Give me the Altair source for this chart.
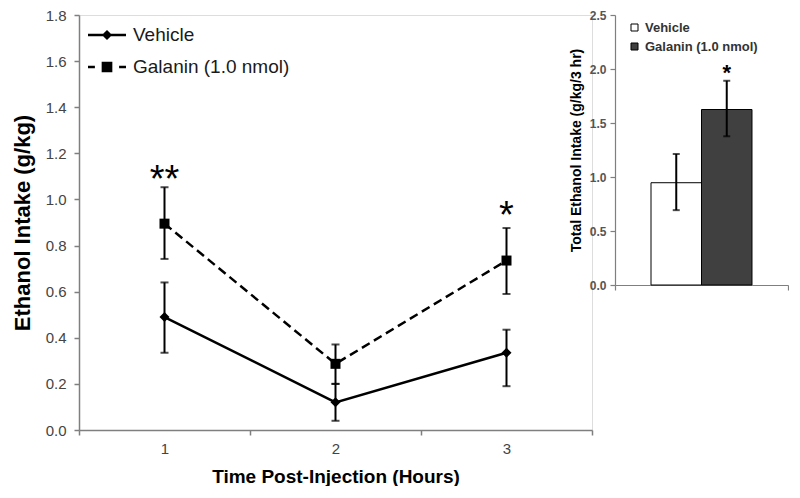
import altair as alt
import pandas as pd

# ---- main chart data ----
times = ["1", "2", "3"]
series_names = ["Vehicle", "Galanin (1.0 nmol)"]
vehicle_mean = [0.49, 0.12, 0.335]
vehicle_lo = [0.335, 0.04, 0.19]
vehicle_hi = [0.64, 0.20, 0.435]
galanin_mean = [0.895, 0.287, 0.735]
galanin_lo = [0.742, 0.20, 0.59]
galanin_hi = [1.053, 0.371, 0.876]

star_times = ["1", "3"]
star_labels = ["**", "*"]
star_values = [1.128, 0.973]

# ---- inset data ----
total_groups = ["Vehicle", "Galanin (1.0 nmol)"]
total_mean = [0.947, 1.625]
total_lo = [0.693, 1.377]
total_hi = [1.213, 1.891]
total_star_group = ["Galanin (1.0 nmol)"]
total_star_label = ["*"]
total_star_value = [2.02]

FONT = "Liberation Sans"

rows = []
for i, t in enumerate(times):
    rows.append(dict(time=t, series=series_names[0], mean=vehicle_mean[i], lo=vehicle_lo[i], hi=vehicle_hi[i]))
for i, t in enumerate(times):
    rows.append(dict(time=t, series=series_names[1], mean=galanin_mean[i], lo=galanin_lo[i], hi=galanin_hi[i]))
main_df = pd.DataFrame(rows)
star_df = pd.DataFrame(dict(time=star_times, label=star_labels, value=star_values))

inset_df = pd.DataFrame(dict(cat=["all"] * 2, treatment=total_groups, mean=total_mean, lo=total_lo, hi=total_hi))
inset_star_df = pd.DataFrame(dict(cat=["all"], treatment=total_star_group, label=total_star_label, value=total_star_value))

W, H = 513, 415

x_main = alt.X(
    "time:O",
    bandPosition=0.5,
    scale=alt.Scale(type="band", domain=times, paddingInner=0, paddingOuter=0),
    axis=alt.Axis(
        title="Time Post-Injection (Hours)", tickBand="extent", labelAngle=0,
        labelFontSize=15, labelColor="#444444", labelPadding=6, labelFont=FONT,
        titleFontSize=19, titleFontWeight="bold", titleColor="black", titleFont=FONT,
        titlePadding=11, domainColor="#7f7f7f", tickColor="#7f7f7f", tickSize=5,
        domainWidth=1.5, tickWidth=1.5, orient="bottom",
    ),
)
y_scale_main = alt.Scale(domain=[0, 1.8], nice=False)
y_main = alt.Y(
    "mean:Q", scale=y_scale_main,
    axis=alt.Axis(
        title="Ethanol Intake (g/kg)", values=[0, 0.2, 0.4, 0.6, 0.8, 1.0, 1.2, 1.4, 1.6, 1.8],
        format=".1f", grid=False, labelFontSize=15, labelColor="#444444", labelPadding=8, labelFont=FONT,
        titleFontSize=22, titleFontWeight="bold", titleColor="black", titleFont=FONT,
        titlePadding=11, domainColor="#7f7f7f", tickColor="#7f7f7f", tickSize=5,
        domainWidth=1.5, tickWidth=1.5, orient="left",
    ),
)

base = alt.Chart(main_df)

veh_line = base.transform_filter(alt.datum.series == series_names[0]).mark_line(
    color="black", strokeWidth=2.5).encode(x=x_main, y=y_main)
gal_line = base.transform_filter(alt.datum.series == series_names[1]).mark_line(
    color="black", strokeWidth=2.5, strokeDash=[9, 5]).encode(x=x_main, y=y_main)

err_rule = base.mark_rule(color="black", strokeWidth=2).encode(x=x_main, y="lo:Q", y2="hi:Q")
cap_lo = base.mark_tick(color="black", thickness=2, size=8).encode(x=x_main, y="lo:Q")
cap_hi = base.mark_tick(color="black", thickness=2, size=8).encode(x=x_main, y="hi:Q")

veh_pts = base.transform_filter(alt.datum.series == series_names[0]).mark_point(
    shape="diamond", filled=True, color="black", size=100, opacity=1).encode(x=x_main, y=y_main)
gal_pts = base.transform_filter(alt.datum.series == series_names[1]).mark_point(
    shape="square", filled=True, color="black", size=100, opacity=1).encode(x=x_main, y=y_main)

# legend symbols built from filled shapes: a line (thin bar) with a marker in the middle
veh_path = "M-1.6,-0.11H1.6V0.11H-1.6Z M0,-0.43L0.43,0L0,0.43L-0.43,0Z"
gal_path = ("M-1.6,-0.11H-1.02V0.11H-1.6Z M1.02,-0.11H1.6V0.11H1.02Z "
            "M-0.45,-0.45H0.45V0.45H-0.45Z")

legend_layer = base.mark_point(filled=True, color="black", opacity=0).encode(
    x=x_main, y=y_main,
    shape=alt.Shape(
        "series:N",
        scale=alt.Scale(domain=series_names, range=[veh_path, gal_path]),
        legend=alt.Legend(
            title=None, orient="none", legendX=16, legendY=8, symbolSize=564,
            symbolStrokeWidth=0, symbolFillColor="black",
            symbolOpacity=1, labelFontSize=19, labelFont=FONT, labelColor="#1a1a1a",
            labelOffset=14, rowPadding=10, padding=0, labelLimit=400,
        ),
    ),
)

stars = alt.Chart(star_df).mark_text(
    font=FONT, fontSize=38, color="black", baseline="alphabetic", dy=22, align="center"
).encode(x=x_main, y=alt.Y("value:Q", scale=y_scale_main), text="label:N")

main = alt.layer(veh_line, gal_line, err_rule, cap_lo, cap_hi, veh_pts, gal_pts, legend_layer, stars)

# ---- inset ----
x_inset = alt.X(
    "cat:N",
    scale=alt.Scale(type="band", range=[536, 709], paddingInner=0, paddingOuter=0),
    axis=alt.Axis(
        orient="bottom", offset=-145, labels=False, title=None, tickBand="extent",
        domainColor="#7f7f7f", tickColor="#7f7f7f", tickSize=5, domainWidth=1.2, tickWidth=1.2,
    ),
)
xoff_inset = alt.XOffset(
    "treatment:N", sort=total_groups, scale=alt.Scale(paddingInner=0, paddingOuter=0.713)
)
y_scale_inset = alt.Scale(domain=[0, 2.5], range=[270, 0], nice=False)
y_inset = alt.Y(
    "mean:Q", scale=y_scale_inset,
    axis=alt.Axis(
        orient="left", offset=-536, title="Total Ethanol Intake (g/kg/3 hr)",
        values=[0, 0.5, 1.0, 1.5, 2.0, 2.5], format=".1f", grid=False,
        labelFontSize=12, labelFontWeight="bold", labelColor="#555555", labelFont=FONT, labelPadding=4,
        titleFontSize=14, titleFontWeight="bold", titleColor="black", titleFont=FONT, titlePadding=6,
        domainColor="#7f7f7f", tickColor="#7f7f7f", tickSize=5, domainWidth=1.2, tickWidth=1.2,
    ),
)

ibase = alt.Chart(inset_df)
bars = ibase.mark_bar(stroke="black", strokeWidth=1).encode(
    x=x_inset, xOffset=xoff_inset, y=y_inset,
    fill=alt.Fill(
        "treatment:N", sort=total_groups,
        scale=alt.Scale(range=["white", "#404040"]),
        legend=alt.Legend(
            title=None, orient="none", legendX=549, legendY=6, symbolType="square",
            symbolSize=49, symbolStrokeColor="black", symbolStrokeWidth=1,
            labelFontSize=13, labelFontWeight="bold", labelFont=FONT, labelColor="#333333",
            labelOffset=4, rowPadding=5, padding=0, labelLimit=300,
        ),
    ),
)
i_rule = ibase.mark_rule(color="black", strokeWidth=2).encode(
    x=x_inset, xOffset=xoff_inset, y=alt.Y("lo:Q", scale=y_scale_inset), y2="hi:Q")
i_cap_lo = ibase.mark_tick(color="black", thickness=2, size=7).encode(
    x=x_inset, xOffset=xoff_inset, y=alt.Y("lo:Q", scale=y_scale_inset))
i_cap_hi = ibase.mark_tick(color="black", thickness=2, size=7).encode(
    x=x_inset, xOffset=xoff_inset, y=alt.Y("hi:Q", scale=y_scale_inset))
i_star = alt.Chart(inset_star_df).mark_text(
    font=FONT, fontSize=22, fontWeight="bold", color="black", baseline="alphabetic", dy=13
).encode(x=x_inset, xOffset=xoff_inset, y=alt.Y("value:Q", scale=y_scale_inset), text="label:N")

inset = alt.layer(bars, i_rule, i_cap_lo, i_cap_hi, i_star)

chart = alt.layer(main, inset).resolve_scale(
    x="independent", y="independent"
).resolve_axis(x="independent", y="independent").properties(
    width=W, height=H, padding={"left": 3, "top": 0, "right": 0, "bottom": 0}
).configure_view(stroke=None).configure(background="white")

chart.save("out.html", embed_options={"renderer": "svg", "actions": False})
